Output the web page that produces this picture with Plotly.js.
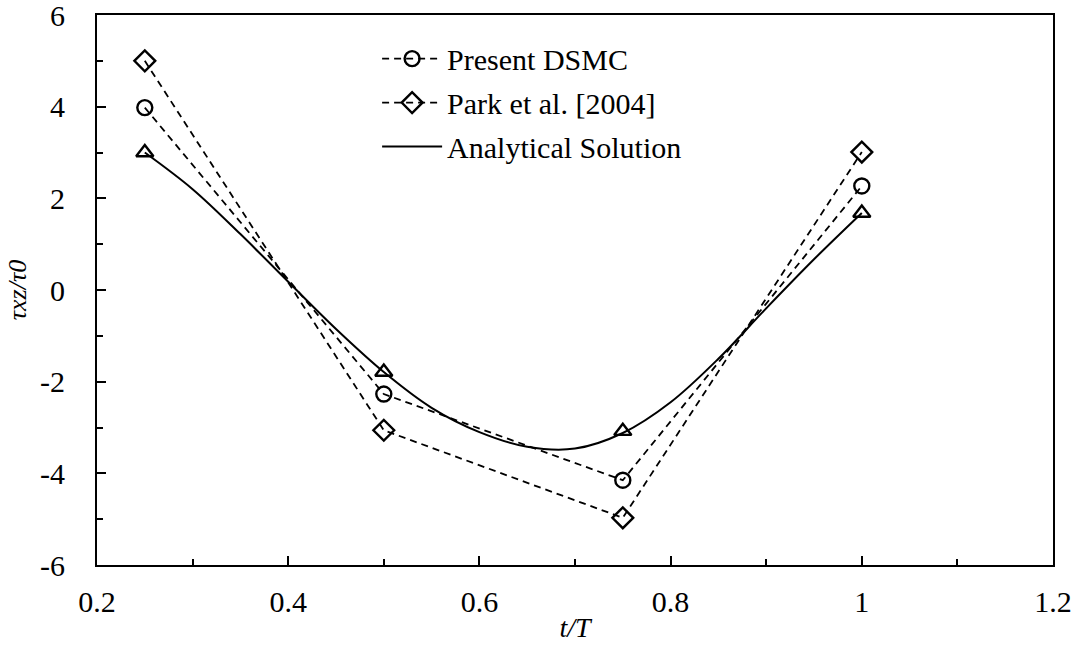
<!DOCTYPE html>
<html>
<head>
<meta charset="utf-8">
<script src="https://cdn.plot.ly/plotly-3.0.1.min.js"></script>
<style>html,body{margin:0;padding:0;background:#fff;}#chart{width:1076px;height:650px;}</style>
</head>
<body>
<div id="chart"></div>
<script>
// Data
const tT = [0.25, 0.5, 0.75, 1.0];
const presentDSMC = [3.98, -2.27, -4.15, 2.27];
const park2004 = [5.0, -3.06, -4.97, 3.01];
const analyticalMarks = [3.0, -1.79, -3.08, 1.68];
// Analytical curve
const analyticalT = [0.25, 0.30, 0.35, 0.40, 0.45, 0.50, 0.55, 0.60, 0.65, 0.70, 0.75, 0.80, 0.85, 0.90, 0.95, 1.00];
const analyticalCurve = [3.0, 2.2, 1.22, 0.18, -0.85, -1.79, -2.57, -3.1, -3.42, -3.46, -3.12, -2.45, -1.5, -0.4, 0.67, 1.68];
const seriesNames = ['Present DSMC', 'Park et al. [2004]', 'Analytical Solution'];
const xTickVals = [0.2, 0.4, 0.6, 0.8, 1.0, 1.2];
const xTickText = ['0.2', '0.4', '0.6', '0.8', '1', '1.2'];
const yTickVals = [-6, -4, -2, 0, 2, 4, 6];
const yTickText = ['-6', '-4', '-2', '0', '2', '4', '6'];

const FONT = '"Liberation Serif", "Times New Roman", serif';
const black = '#000000';

const traces = [
  {
    x: tT, y: presentDSMC, name: seriesNames[0], legendgroup: 'a', type: 'scatter', mode: 'lines+markers',
    line: {color: black, width: 1.8, dash: '7px,5px'},
    marker: {symbol: 'circle-open', size: 15, color: black, line: {width: 2.4, color: black}}
  },
  {
    x: tT, y: park2004, name: seriesNames[1], legendgroup: 'b', type: 'scatter', mode: 'lines+markers',
    line: {color: black, width: 1.8, dash: '7px,5px'},
    marker: {symbol: 'diamond-open', size: 16, color: black, line: {width: 2.4, color: black}}
  },
  {
    x: analyticalT, y: analyticalCurve, name: seriesNames[2], legendgroup: 'c', type: 'scatter', mode: 'lines',
    line: {color: black, width: 2, shape: 'spline', smoothing: 1}
  },
  {
    x: tT, y: analyticalMarks, name: seriesNames[2], legendgroup: 'c', type: 'scatter', mode: 'markers', showlegend: false,
    marker: {symbol: 'triangle-up-open', size: 15, color: black, line: {width: 2.4, color: black}}
  }
];

const layout = {
  width: 1076, height: 650,
  margin: {l: 97, r: 23, t: 15, b: 85},
  paper_bgcolor: '#fff', plot_bgcolor: '#fff',
  font: {family: FONT, color: black, size: 30},
  showlegend: true,
  legend: {
    x: 0.293, y: 0.968, xanchor: 'left', yanchor: 'top',
    bgcolor: 'rgba(0,0,0,0)', borderwidth: 0,
    font: {family: FONT, size: 30, color: black},
    tracegroupgap: 2, itemwidth: 60
  },
  xaxis: {
    range: [0.2, 1.2], tickmode: 'array', tickvals: xTickVals, ticktext: xTickText,
    showgrid: false, zeroline: false,
    showline: true, linecolor: black, linewidth: 2, mirror: true,
    ticks: 'inside', ticklen: 9, tickwidth: 2, tickcolor: black,
    minor: {dtick: 0.1, tick0: 0.2, ticks: 'inside', ticklen: 6, tickwidth: 2, tickcolor: black, showgrid: false},
    tickfont: {family: FONT, size: 30, color: black},
    ticklabelstandoff: 9, ticklabeloverflow: 'allow',
    title: {text: '<i>t/T</i>', font: {family: FONT, size: 28, color: black}, standoff: 0}
  },
  yaxis: {
    range: [-6, 6], tickmode: 'array', tickvals: yTickVals, ticktext: yTickText,
    showgrid: false, zeroline: false,
    showline: true, linecolor: black, linewidth: 2, mirror: true,
    ticks: 'inside', ticklen: 9, tickwidth: 2, tickcolor: black,
    minor: {dtick: 1, tick0: -6, ticks: 'inside', ticklen: 6, tickwidth: 2, tickcolor: black, showgrid: false},
    tickfont: {family: FONT, size: 30, color: black},
    ticklabelstandoff: 24, ticklabeloverflow: 'allow',
    title: {text: '<i>τxz/τ0</i>', font: {family: FONT, size: 26, color: black}, standoff: 6}
  }
};

Plotly.newPlot('chart', traces, layout, {displayModeBar: false, staticPlot: true});
</script>
</body>
</html>
